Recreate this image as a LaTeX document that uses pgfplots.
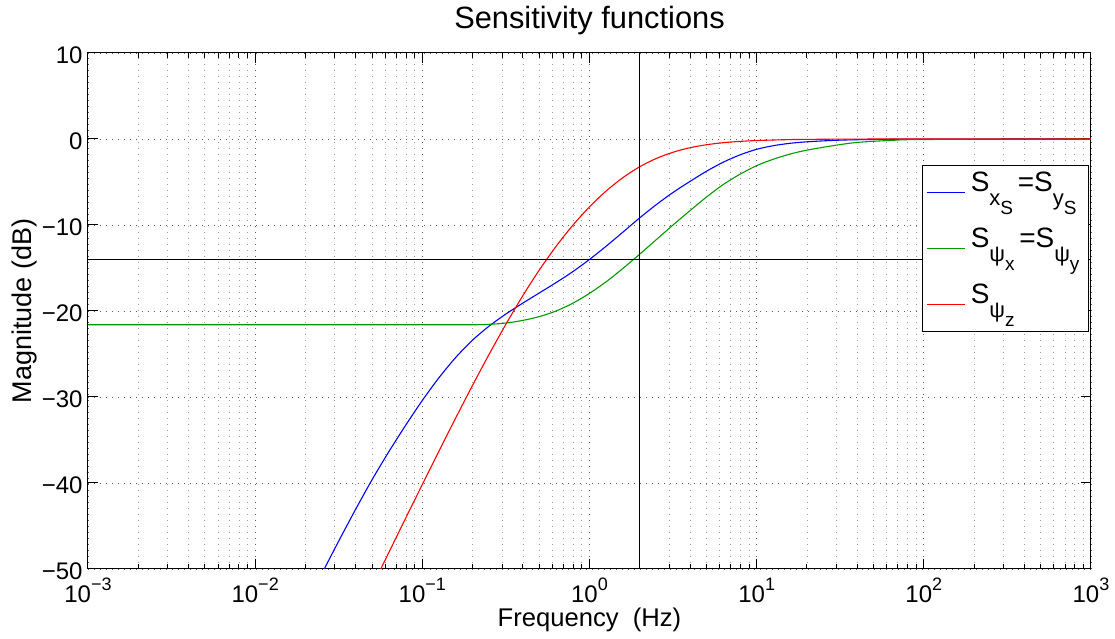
\documentclass[border=0pt]{standalone}
\usepackage{pgfplots}
\pgfplotsset{compat=1.18}
\usepackage{fontspec}
\setmainfont{Liberation Sans}
\definecolor{mblue}{rgb}{0,0,1}
\definecolor{mgreen}{rgb}{0,0.6,0}
\definecolor{mred}{rgb}{1,0,0}
\newcommand{\tp}[1]{10\raisebox{0.5em}{\fontsize{9}{9}\selectfont #1}}
\newcommand{\lsub}[1]{\raisebox{-0.5em}{\fontsize{11}{11}\selectfont #1}}
\newcommand{\lsubb}[1]{\raisebox{-0.42em}{\fontsize{9.5}{9.5}\selectfont #1}}
\begin{document}
\begin{tikzpicture}
\begin{axis}[
  scale only axis, width=501.5pt, height=258pt,
  xmode=log, xmin=1e-3, xmax=1e3, ymin=-50, ymax=10,
  xtick={1e-3,1e-2,1e-1,1,10,100,1000},
  xticklabels={\tp{−3},\tp{−2},\tp{−1},\tp{0},\tp{1},\tp{2},\tp{3}},
  minor xtick={2e-3,3e-3,4e-3,5e-3,6e-3,7e-3,8e-3,9e-3,
               2e-2,3e-2,4e-2,5e-2,6e-2,7e-2,8e-2,9e-2,
               0.2,0.3,0.4,0.5,0.6,0.7,0.8,0.9,
               2,3,4,5,6,7,8,9,
               20,30,40,50,60,70,80,90,
               200,300,400,500,600,700,800,900},
  ytick={-50,-40,-30,-20,-10,0,10},
  yticklabels={−50,−40,−30,−20,−10,0,10},
  xmajorgrids, xminorgrids, ymajorgrids,
  major grid style={dash pattern=on 0.6pt off 2.4pt, black!65, line width=0.45pt},
  minor grid style={dash pattern=on 0.6pt off 2.4pt, black!40, line width=0.45pt},
  tick align=inside, major tick length=5pt, minor tick length=2.5pt,
  every tick/.style={black, line width=0.5pt},
  axis line style={line width=0.5pt},
  tick label style={font=\fontsize{12}{12}\selectfont},
  xticklabel style={anchor=base, yshift=-17pt},
  yticklabel style={anchor=east, inner xsep=0pt, xshift=-2.5pt, yshift=-1.2pt},
  title={Sensitivity functions},
  title style={font=\fontsize{15.4}{15.4}\selectfont, at={(axis description cs:0.5,1.0233)}, anchor=base},
  xlabel={Frequency~~(Hz)},
  xlabel style={font=\fontsize{12.8}{12.8}\selectfont, at={(axis description cs:0.5,-0.1116)}, anchor=base},
  ylabel={Magnitude (dB)},
  ylabel style={font=\fontsize{13.5}{13.5}\selectfont, at={(axis description cs:-0.0568,0.5)}, anchor=base},
  legend style={at={(0.998,0.783)}, anchor=north east, draw=black, line width=0.5pt, fill=white,
     font=\fontsize{14}{14}\selectfont, inner xsep=2pt, inner ysep=0pt, row sep=1pt,
     nodes={text height=10.5pt, text depth=11.5pt, inner xsep=2.5pt, inner ysep=2.5pt}},
  legend cell align=left,
  legend image code/.code={\draw[#1,line width=0.55pt] (0pt,0pt) -- (19pt,0pt);},
]
\addplot[mblue, line width=0.55pt, smooth] coordinates {
(0.01995,-54.3) (0.02512,-50.5) (0.03162,-46.75) (0.03981,-43.1) (0.05012,-39.6)
(0.06310,-36.35) (0.07943,-33.3) (0.1,-30.4) (0.1259,-27.75) (0.1585,-25.4)
(0.1995,-23.4) (0.2512,-21.75) (0.3162,-20.35) (0.3981,-19.1) (0.5012,-17.9)
(0.6310,-16.7) (0.7943,-15.43) (1,-14.01) (1.2589,-12.46) (1.5849,-10.83)
(1.9953,-9.18) (2.5119,-7.63) (3.1623,-6.21) (3.9811,-4.95) (5.0119,-3.75)
(6.3096,-2.7) (7.9433,-1.85) (10,-1.2) (12.589,-0.78) (15.849,-0.5)
(19.953,-0.33) (28.18,-0.17) (39.81,-0.085) (63.10,-0.035) (100,-0.015) (1000,0)
};
\addplot[mgreen, line width=0.55pt, smooth] coordinates {
(0.001,-21.6) (0.01,-21.6) (0.1,-21.6) (0.1995,-21.6) (0.2512,-21.55) (0.3162,-21.4)
(0.3981,-21.1) (0.5012,-20.65) (0.6310,-20.0) (0.7943,-19.1) (1,-17.95)
(1.2589,-16.6) (1.5849,-15.05) (1.9953,-13.4) (2.5119,-11.7) (3.1623,-10.0)
(3.9811,-8.35) (5.0119,-6.75) (6.3096,-5.3) (7.9433,-4.1) (10,-3.1)
(12.589,-2.35) (15.849,-1.75) (19.953,-1.3) (28.18,-0.8) (39.81,-0.4)
(63.10,-0.17) (100,-0.06) (1000,0)
};
\addplot[mred, line width=0.55pt, smooth] coordinates {
(0.03981,-56.03) (0.05012,-52.05) (0.06310,-48.07) (0.07943,-44.11) (0.1,-40.18)
(0.1259,-36.28) (0.1585,-32.43) (0.1995,-28.67) (0.2512,-25.02) (0.3162,-21.54)
(0.3981,-18.26) (0.5012,-15.23) (0.6310,-12.49) (0.7943,-10.04) (1,-7.89)
(1.2589,-6.04) (1.5849,-4.49) (1.9953,-3.23) (2.5119,-2.26) (3.1623,-1.54)
(3.9811,-1.02) (5.0119,-0.67) (6.3096,-0.43) (7.9433,-0.28) (10,-0.18)
(15.849,-0.07) (25.12,-0.03) (39.81,-0.01) (100,0) (1000,0)
};
\addplot[black, line width=0.6pt, forget plot] coordinates {(2,-50) (2,10)};
\addplot[black, line width=0.6pt, forget plot] coordinates {(0.001,-14) (1000,-14)};
\legend{S\lsub{x\lsubb{S}}\,=S\lsub{y\lsubb{S}},
        S\lsub{ψ\lsubb{x}}\,=S\lsub{ψ\lsubb{y}},
        S\lsub{ψ\lsubb{z}}}
\end{axis}
\pgfresetboundingbox
\path[use as bounding box] ([xshift=-44pt,yshift=-35pt]current axis.south west) rectangle ([xshift=12pt,yshift=26.5pt]current axis.north east);
\end{tikzpicture}
\end{document}
